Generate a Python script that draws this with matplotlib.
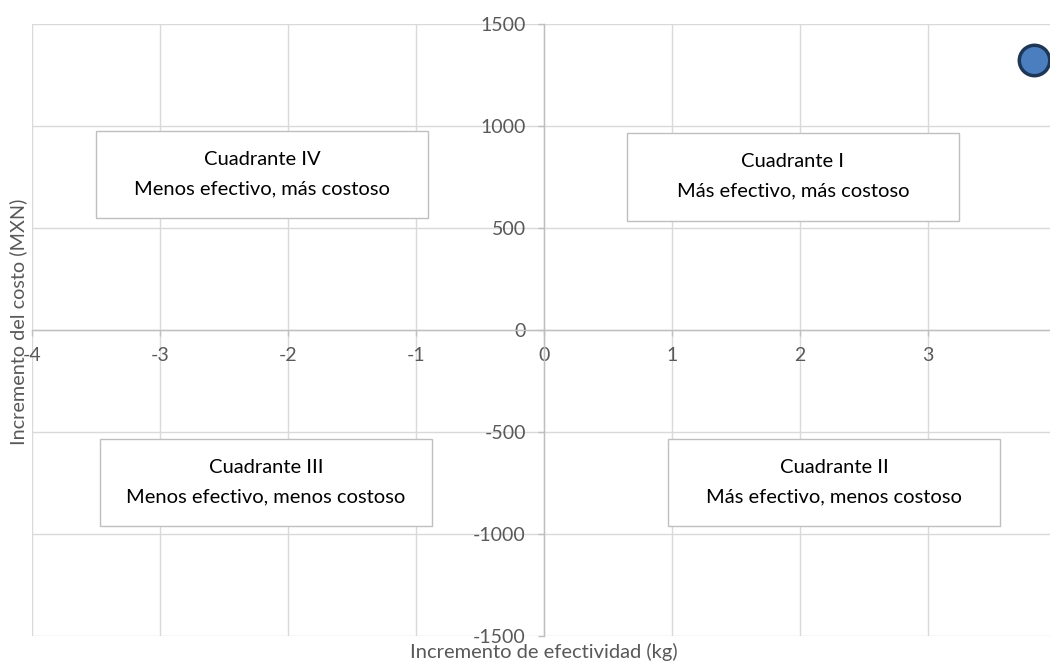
import matplotlib.pyplot as plt
from matplotlib.patches import Rectangle

# Data
efectividad = [3.83]
costo = [1325]

x_ticks = [-4, -3, -2, -1, 0, 1, 2, 3]
y_ticks = [-1500, -1000, -500, 0, 500, 1000, 1500]

# Quadrant boxes: (x0, x1, y0, y1) in data units, then the two text lines
cuadrantes = [
    ((-3.5, -0.906, 549, 975), "Cuadrante IV", "Menos efectivo, más costoso"),
    ((0.648, 3.24, 534, 966), "Cuadrante I", "Más efectivo, más costoso"),
    ((-3.47, -0.875, -961, -534), "Cuadrante III", "Menos efectivo, menos costoso"),
    ((0.97, 3.56, -961, -534), "Cuadrante II", "Más efectivo, menos costoso"),
]

plt.rcParams['font.family'] = ['Lato', 'DejaVu Sans']
plt.rcParams['axes.unicode_minus'] = False

fig = plt.figure(figsize=(10.5, 6.64), dpi=100)
ax = fig.add_axes([32 / 1050, 28 / 664, 1024 / 1050, 612 / 664])

ax.set_xlim(-4, 4)
ax.set_ylim(-1500, 1500)

# Axes crossing at the origin
for side in ['top', 'right']:
    ax.spines[side].set_visible(False)
ax.spines['left'].set_position(('data', 0))
ax.spines['bottom'].set_position(('data', 0))
for side in ['left', 'bottom']:
    ax.spines[side].set_color('#bfbfbf')
    ax.spines[side].set_linewidth(1.0)
    ax.spines[side].set_zorder(1)

ax.set_xticks(x_ticks)
ax.set_yticks(y_ticks)
ax.tick_params(axis='both', colors='#bfbfbf', labelcolor='#595959',
               labelsize=14, length=4, width=1.0, direction='out')
ax.tick_params(axis='x', pad=8)
ax.tick_params(axis='y', pad=9)

ax.grid(True, color='#d9d9d9', linewidth=1.0, zorder=0)
ax.set_axisbelow(True)

# Quadrant labels
for (x0, x1, y0, y1), titulo, texto in cuadrantes:
    ax.add_patch(Rectangle((x0, y0), x1 - x0, y1 - y0, facecolor='white',
                           edgecolor='#bfbfbf', linewidth=1.0, zorder=3))
    xc = (x0 + x1) / 2
    yc = (y0 + y1) / 2
    ax.text(xc, yc + 75, titulo, ha='center', va='center', fontsize=14.5,
            color='black', zorder=4)
    ax.text(xc, yc - 70, texto, ha='center', va='center', fontsize=14.5,
            color='black', zorder=4)

ax.scatter(efectividad, costo, s=480, color='#4a7ebf', edgecolors='#1f3756',
           linewidths=2.5, zorder=5, clip_on=False)

fig.text(544 / 1050, 1 - 652 / 664, "Incremento de efectividad (kg)",
         ha='center', va='center', fontsize=14.5, color='#595959')
fig.text(18 / 1050, 1 - 322 / 664, "Incremento del costo (MXN)",
         ha='center', va='center', rotation=90, fontsize=14.3, color='#595959')

fig.savefig('out.png', dpi=100)
